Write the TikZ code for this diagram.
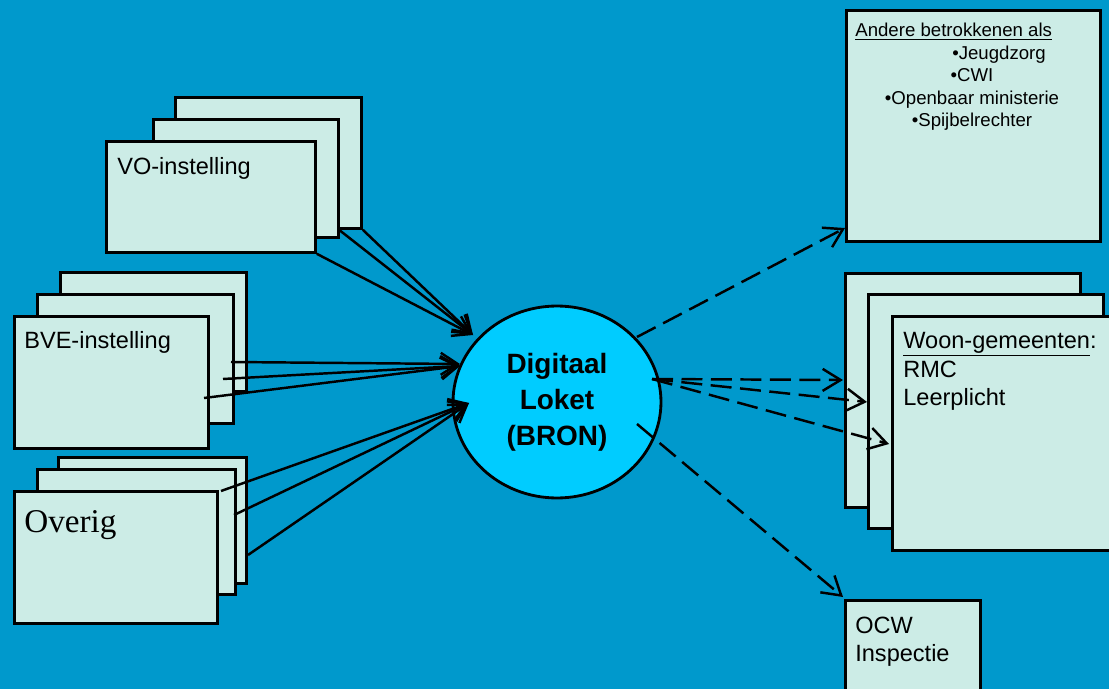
\documentclass[tikz,border=0pt]{standalone}
\usepackage{fontspec}
\setmainfont{Liberation Sans}
\newfontfamily\overigfont{Liberation Serif}
\usepackage{tikz}
\usetikzlibrary{shapes.geometric,arrows.meta}
\definecolor{sea}{HTML}{0099CC}
\definecolor{mint}{HTML}{CCECE6}
\definecolor{bronblue}{HTML}{00CCFF}

\begin{document}
\begin{tikzpicture}[x=0.02cm, y=-0.02cm,
  card/.style={draw, fill=mint, line width=1.6pt, rectangle, inner sep=0pt, anchor=north west},
  lbl/.style={inner sep=0pt, anchor=base west, font=\fontsize{13.4}{16.5}\selectfont},
  small/.style={inner sep=0pt, anchor=base, font=\fontsize{10.6}{12.8}\selectfont},
  feed/.style={line width=1.4pt, -{Straight Barb[length=0.34cm, width=0.44cm]}},
  link/.style={line width=1.4pt, dash pattern=on 0.42cm off 0.17cm, -{Straight Barb[length=0.36cm, width=0.44cm]}}]
  \fill[sea] (0,0) rectangle (1109,689) ; %
  \useasboundingbox (0,0) rectangle (1109,689) ; %
  \clip (0,0) rectangle (1109,689) ; %
  % Nodes
  \node[card, minimum width=3.72cm, minimum height=2.62cm] (voback) at (174,96) {} ; %
  \node[card, minimum width=3.70cm, minimum height=2.36cm] (vomid) at (152,118) {} ; %
  \node[card, minimum width=4.18cm, minimum height=2.22cm] (vofront) at (105,140) {} ; %
  \node[lbl] (votext) at (117,175) {VO-instelling} ; %
  \node[card, minimum width=3.72cm, minimum height=2.38cm] (bveback) at (59,271) {} ; %
  \node[card, minimum width=3.92cm, minimum height=2.58cm] (bvemid) at (36,293) {} ; %
  \node[card, minimum width=3.88cm, minimum height=2.64cm] (bvefront) at (13,315) {} ; %
  \node[lbl] (bvetext) at (24,348) {BVE-instelling} ; %
  \node[card, minimum width=3.76cm, minimum height=2.52cm] (ovback) at (57,456) {} ; %
  \node[card, minimum width=3.96cm, minimum height=2.50cm] (ovmid) at (36,468) {} ; %
  \node[card, minimum width=4.06cm, minimum height=2.64cm] (ovfront) at (13,490) {} ; %
  \node[lbl, font=\overigfont\fontsize{18.9}{22}\selectfont] (ovtext) at (24,532) {Overig} ; %
  \node[ellipse, draw, fill=bronblue, line width=1.6pt, minimum width=4.16cm, minimum height=3.84cm,
        align=center, font=\bfseries\fontsize{15.9}{20.4}\selectfont] (bron) at (557,402) {Digitaal\\Loket\\(BRON)} ; %
  \node[card, minimum width=5.08cm, minimum height=4.62cm] (betrokken) at (845,9) {} ; %
  \node[small, anchor=base west] (bthead) at (855,37) {\underline{Andere betrokkenen als}} ; %
  \node[small] (btjeugd) at (999,60) {•Jeugdzorg} ; %
  \node[small] (btcwi) at (972,82) {•CWI} ; %
  \node[small] (btom) at (972,105) {•Openbaar ministerie} ; %
  \node[small] (btspijbel) at (972,127) {•Spijbelrechter} ; %
  \node[card, minimum width=4.70cm, minimum height=4.68cm] (woonback) at (844,272) {} ; %
  \node[card, minimum width=4.70cm, minimum height=4.68cm] (woonmid) at (867,293) {} ; %
  \node[card, minimum width=4.80cm, minimum height=4.68cm] (woonfront) at (891,315) {} ; %
  \node[lbl] (woontext) at (903,348) {\underline{Woon-gemeenten}:} ; %
  \node[lbl] (rmctext) at (903,377) {RMC} ; %
  \node[lbl] (leertext) at (903,405) {Leerplicht} ; %
  \node[card, minimum width=2.70cm, minimum height=2.00cm] (ocw) at (844,599) {} ; %
  \node[lbl] (ocwtext) at (855,633) {OCW} ; %
  \node[lbl] (insptext) at (855,661) {Inspectie} ; %
  % Ends
  \coordinate (vomidout) at (338,229) ; %
  \coordinate (vohit) at (473,335) ; %
  \coordinate (bveout1) at (231,362) ; %
  \coordinate (bveout2) at (223,379) ; %
  \coordinate (bveout3) at (204,398) ; %
  \coordinate (bvehit1) at (460,364) ; %
  \coordinate (bvehit2) at (460,366) ; %
  \coordinate (ovout1) at (221,491) ; %
  \coordinate (ovout2) at (234,515) ; %
  \coordinate (ovout3) at (248,555) ; %
  \coordinate (ovhit) at (469,403) ; %
  \coordinate (bronup) at (637,337) ; %
  \coordinate (bronmid) at (652,379) ; %
  \coordinate (brondown) at (637,424) ; %
  \coordinate (bthit) at (845,228) ; %
  \coordinate (woonhit1) at (843,380) ; %
  \coordinate (woonhit2) at (867,402) ; %
  \coordinate (woonhit3) at (889,444) ; %
  \coordinate (ocwhit) at (843,597) ; %
  % Edges
  \draw[feed] (voback.south east) -- (vohit) ; %
  \draw[feed] (vomidout) -- (vohit) ; %
  \draw[feed] (vofront.south east) -- (vohit) ; %
  \draw[feed] (bveout1) -- (bvehit1) ; %
  \draw[feed] (bveout2) -- (bvehit2) ; %
  \draw[feed] (bveout3) -- (bvehit2) ; %
  \draw[feed] (ovout1) -- (ovhit) ; %
  \draw[feed] (ovout2) -- (ovhit) ; %
  \draw[feed] (ovout3) -- (ovhit) ; %
  \draw[link] (bronup) -- (bthit) ; %
  \draw[link] (bronmid) -- (woonhit1) ; %
  \draw[link] (bronmid) -- (woonhit2) ; %
  \draw[link] (bronmid) -- (woonhit3) ; %
  \draw[link] (brondown) -- (ocwhit) ; %
\end{tikzpicture}
\end{document}
